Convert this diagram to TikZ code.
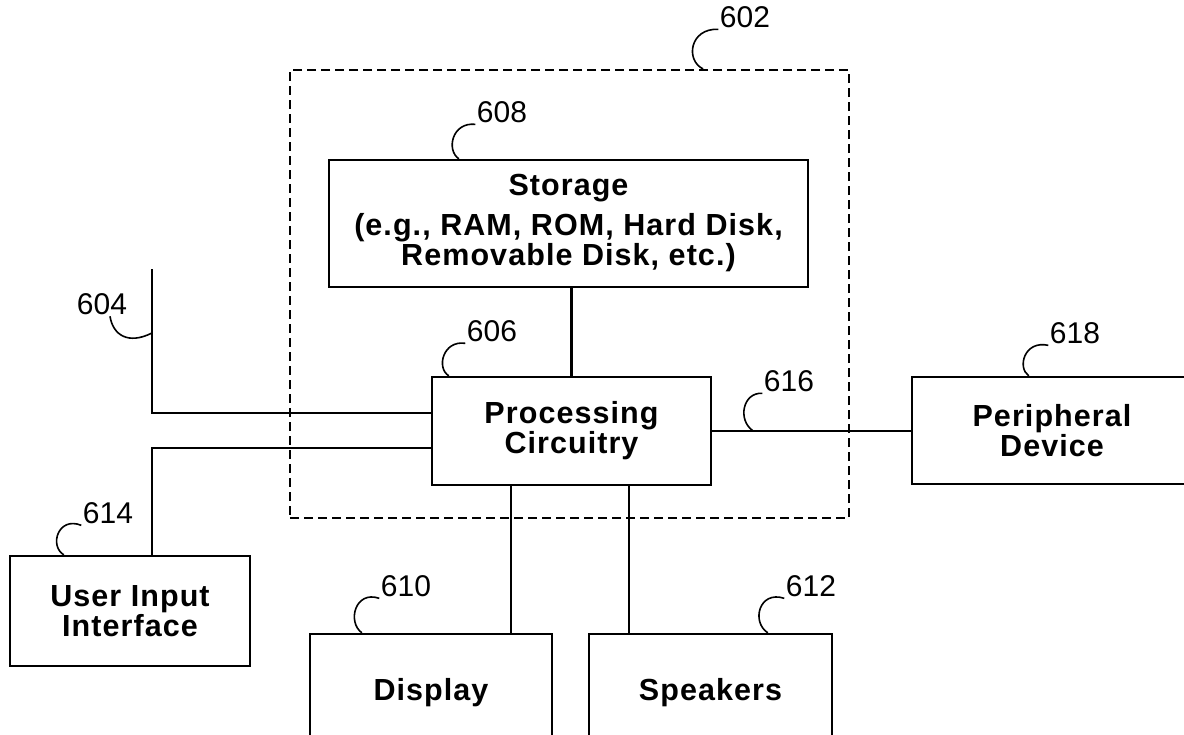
\documentclass[tikz,border=0pt]{standalone}
\usepackage{fontspec}
\setmainfont{Liberation Sans}
\newcommand{\blockfont}{\fontsize{30.5}{30}\selectfont\bfseries\addfontfeature{LetterSpace=3.5}}
\newcommand{\numfont}{\fontsize{30}{30}\selectfont}
\tikzset{
  % solid block
  blk/.style={
    draw, line width=2.4pt,
    align=center, inner sep=0pt,
    font=\blockfont
  },
  % dashed outline of the device
  sysbox/.style={
    draw, line width=2.2pt,
    dash pattern=on 9pt off 5pt
  },
  % plain connector
  wire/.style={line width=2.2pt},
  % reference numeral and its hook
  refnum/.style={inner sep=1.5pt, font=\numfont},
  hook/.style={line width=1.6pt},
}

\begin{document}
\begin{tikzpicture}[x=1pt, y=-1pt]

\useasboundingbox (0,0) rectangle (1184,734);
\clip (0,0) rectangle (1184,734);

% ── Device outline ───────────────────────────────────────────────────────────
\node[sysbox, minimum width=559pt, minimum height=448pt] (sys) at (569.5,294) {};

% ── Blocks inside ────────────────────────────────────────────────────────────
\node[blk, minimum width=479pt, minimum height=127pt] (store) at (568.5,223.5)
  {Storage\\[10pt](e.g., RAM, ROM, Hard Disk,\\Removable Disk, etc.)};
\node[blk, minimum width=279pt, minimum height=108pt] (proc) at (571.5,431)
  {Processing\\Circuitry};

% ── Blocks outside ───────────────────────────────────────────────────────────
\node[blk, minimum width=280pt, minimum height=107pt] (peri) at (1052,430.5)
  {Peripheral\\Device};
\node[blk, minimum width=240pt, minimum height=110pt] (user) at (130,611)
  {User Input\\Interface};
\node[blk, minimum width=242pt, minimum height=118pt] (disp) at (431,693) {Display};
\node[blk, minimum width=243pt, minimum height=118pt] (spk) at (710.5,693) {Speakers};

% ── Connectors ───────────────────────────────────────────────────────────────
\coordinate (inTop) at (152,269);
\draw[wire] (proc.north) -- (proc.north |- store.south);
\draw[wire] (inTop) |- ([yshift=18pt]proc.west);
\draw[wire] ([xshift=22pt]user.north) |- ([yshift=-17pt]proc.west);
\draw[wire] (proc.east) -- (proc.east -| peri.west);
\draw[wire] ([xshift=-60.5pt]proc.south) -- ([xshift=-60.5pt]proc.south |- disp.north);
\draw[wire] ([xshift=57.5pt]proc.south) -- ([xshift=57.5pt]proc.south |- spk.north);

% ── Reference numerals ───────────────────────────────────────────────────────
\node[refnum] (n602) at (745,17) {602};
\node[refnum] (n608) at (502,112) {608};
\node[refnum] (n606) at (492,331) {606};
\node[refnum] (n604) at (102,304) {604};
\node[refnum] (n616) at (789,381) {616};
\node[refnum] (n618) at (1075,333) {618};
\node[refnum] (n614) at (108,513) {614};
\node[refnum] (n610) at (406,586) {610};
\node[refnum] (n612) at (811,586) {612};

% ── Hooks ────────────────────────────────────────────────────────────────────
\draw[hook] (n602.south west) .. controls (690,28) and (685,60) .. ([xshift=133.5pt]sys.north);
\draw[hook] (n608.south west) .. controls (452,122) and (446,150) .. ([xshift=131pt]store.north west);
\draw[hook] (n606.south west) .. controls (443,340) and (436,368) .. ([xshift=18pt]proc.north west);
\draw[hook] ([xshift=8pt]n604.south) .. controls (113,335) and (128,345) .. ([yshift=-64pt]inTop);
\draw[hook] (n616.south west) .. controls (743,392) and (737,420) .. ([xshift=41pt]proc.east);
\draw[hook] (n618.south west) .. controls (1024,340) and (1017,368) .. ([xshift=118pt]peri.north west);
\draw[hook] (n614.south west) .. controls (58,516) and (49,546) .. ([xshift=55pt]user.north west);
\draw[hook] (n610.south west) .. controls (355,590) and (347,622) .. ([xshift=53pt]disp.north west);
\draw[hook] (n612.south west) .. controls (759,590) and (751,622) .. ([xshift=180pt]spk.north west);

\end{tikzpicture}
\end{document}
